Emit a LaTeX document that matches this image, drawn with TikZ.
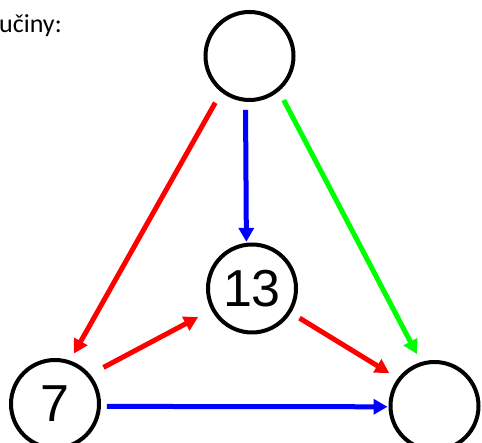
\documentclass[tikz,border=0pt]{standalone}
\usepackage{fontspec}
\setmainfont{Liberation Sans}
\newfontfamily\captionfont{Carlito}
\usetikzlibrary{arrows.meta}
\definecolor{edgeRed}{HTML}{FF0000}
\definecolor{edgeBlue}{HTML}{0000FF}
\definecolor{edgeGreen}{HTML}{00FF00}

\begin{document}
\begin{tikzpicture}[x=1pt,y=1pt,>={Triangle[length=14pt,width=15pt]},
  vertex/.style={circle,draw,line width=4pt,minimum size=88pt,inner sep=0pt,
    font=\fontsize{52}{56}\selectfont},
  edge/.style={->,line width=5pt}]
  \useasboundingbox (0,0) rectangle (482,443);
  \node[anchor=base west,inner sep=0pt,font=\captionfont\fontsize{26}{30}\selectfont]
    (caption) at (-1,410) {učiny:};
  % vertices
  \node[vertex] (top) at (249.5,387) {};
  \node[vertex] (mid) at (252,154.5) {13};
  \node[vertex] (left) at (55,39) {7};
  \node[vertex] (right) at (434.5,37) {};
  % edges
  \draw[edge,edgeRed,shorten <=12pt,shorten >=8pt] (top.232) -- (left.71);
  \draw[edge,edgeBlue,shorten <=8pt,shorten >=1pt] (top.265) -- (mid.97);
  \draw[edge,edgeGreen,shorten <=10pt,shorten >=9pt] (top.310) -- (right.107);
  \draw[edge,edgeRed,shorten <=15pt,shorten >=15pt] (left.40) -- (mid.208);
  \draw[edge,edgeRed,shorten <=10pt,shorten >=10pt] (mid.328) -- (right.143);
  \draw[edge,edgeBlue,shorten <=6pt,shorten >=1pt] (left.357) -- (right.181);
\end{tikzpicture}
\end{document}
